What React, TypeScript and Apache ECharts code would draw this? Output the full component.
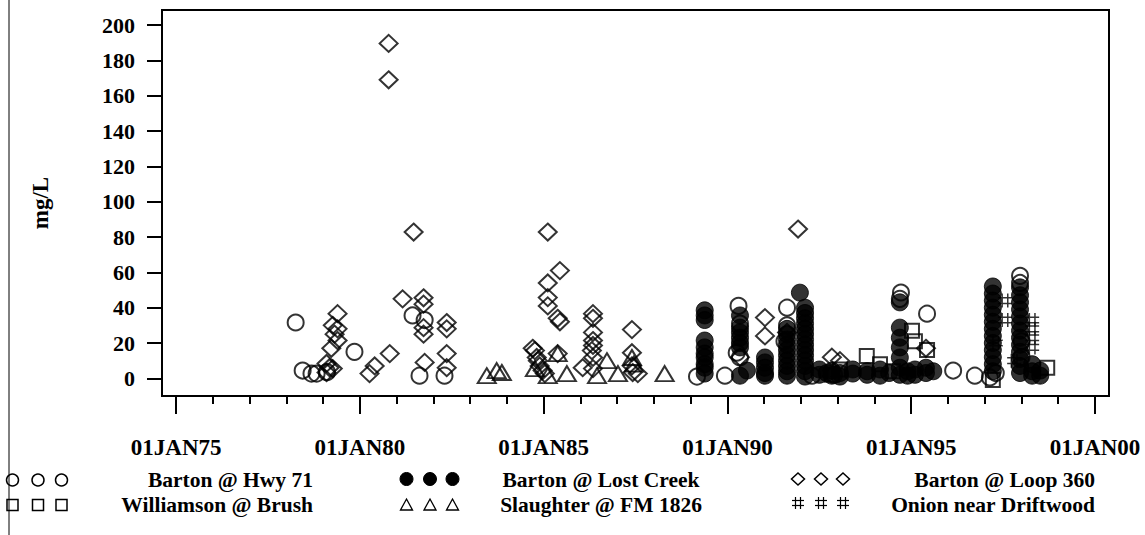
import React, { useEffect, useRef } from "react";
import * as echarts from "echarts";

// x = decimal year, y = mg/L
const hwy71: [number, number][] = [
  [1978.25, 31.6], [1978.44, 4.4], [1978.68, 2.7], [1978.82, 2.7], [1979.1, 3.5], [1979.85, 15],
  [1981.43, 35.6], [1981.62, 1.5], [1981.76, 33], [1982.3, 1.5],
  [1989.17, 1.0], [1989.93, 1.5], [1990.3, 41], [1990.34, 31], [1990.34, 11.8], [1990.25, 14.5],
  [1991.62, 40], [1991.62, 30], [1991.55, 21], [1992.3, 1.5], [1992.9, 2],
  [1994.72, 48.6], [1994.69, 45], [1995.43, 36.6], [1996.14, 4.4], [1996.73, 1.5], [1997.14, 0.5],
  [1997.96, 58], [1997.96, 54], [1998.0, 21], [1998.0, 12], [1997.3, 3],
];

const lostCreek: [number, number][] = [
  [1989.38, 38.5], [1989.38, 35.6], [1989.38, 33], [1989.38, 21.4], [1989.38, 17.5], [1989.38, 14],
  [1989.38, 11.8], [1989.38, 8], [1989.38, 6], [1989.38, 2.7],
  [1990.34, 35.6], [1990.34, 28.7], [1990.34, 26], [1990.34, 23], [1990.34, 20], [1990.34, 17.5],
  [1990.53, 4.4], [1990.34, 1.5],
  [1991.02, 11.8], [1991.02, 9], [1991.02, 6], [1991.02, 3], [1991.02, 1.5],
  [1991.62, 28], [1991.62, 25], [1991.62, 22], [1991.62, 19], [1991.62, 16], [1991.62, 13],
  [1991.62, 10], [1991.62, 7], [1991.62, 4], [1991.62, 1.5],
  [1991.97, 48.5], [1992.11, 40], [1992.11, 37], [1992.11, 34], [1992.11, 31], [1992.11, 28],
  [1992.11, 25], [1992.11, 22], [1992.11, 19], [1992.11, 16], [1992.11, 13], [1992.11, 10],
  [1992.11, 7], [1992.11, 4], [1992.11, 1],
  [1992.5, 2], [1992.5, 5], [1992.7, 3], [1992.84, 4.4], [1992.84, 1.5], [1993.06, 3], [1993.06, 1],
  [1993.41, 2.7], [1993.41, 5], [1993.8, 2], [1993.8, 4], [1994.15, 1.5], [1994.15, 5], [1994.4, 3],
  [1994.69, 43], [1994.69, 28.7], [1994.69, 23], [1994.69, 17.5], [1994.69, 11.8], [1994.69, 6],
  [1994.69, 2], [1994.9, 4], [1994.9, 1.5], [1995.1, 5], [1995.1, 2], [1995.4, 6], [1995.4, 3],
  [1995.6, 4],
  [1997.22, 52], [1997.22, 48], [1997.22, 44], [1997.22, 40], [1997.22, 36], [1997.22, 32],
  [1997.22, 28], [1997.22, 24], [1997.22, 20], [1997.22, 16], [1997.22, 12], [1997.22, 8],
  [1997.22, 4],
  [1997.96, 51.5], [1997.96, 47], [1997.96, 43], [1997.96, 39], [1997.96, 35], [1997.96, 31],
  [1997.96, 27], [1997.96, 23], [1997.96, 19], [1997.96, 15], [1997.96, 11], [1997.96, 7],
  [1997.96, 3], [1998.29, 8], [1998.29, 4], [1998.29, 1.5], [1998.51, 4.4], [1998.51, 1.5],
];

const loop360: [number, number][] = [
  [1979.39, 36.6], [1979.26, 30], [1979.39, 28], [1979.31, 25], [1979.39, 21.4], [1979.22, 17],
  [1979.09, 8.4], [1979.17, 6], [1979.09, 3.3], [1979.26, 5.5], [1980.26, 2.7], [1980.4, 7],
  [1980.81, 14], [1980.78, 189.6], [1980.78, 169], [1981.46, 82.8], [1981.16, 45],
  [1981.73, 45.6], [1981.73, 42], [1981.73, 28.7], [1981.73, 25], [1981.76, 9],
  [1982.36, 31.6], [1982.36, 28], [1982.36, 14], [1982.36, 6],
  [1985.11, 82.8], [1985.11, 54], [1985.11, 45.7], [1985.11, 41], [1985.44, 61], [1985.44, 32],
  [1985.38, 34], [1985.38, 14], [1984.7, 17], [1984.76, 15.7], [1984.81, 11.8], [1984.84, 10],
  [1984.89, 7], [1984.97, 4.4], [1985.03, 2.7],
  [1986.34, 36.6], [1986.34, 34], [1986.34, 26], [1986.34, 21.4], [1986.34, 18.6], [1986.34, 11.8],
  [1986.34, 5.5], [1986.31, 15.7], [1986.06, 6],
  [1987.4, 27.6], [1987.4, 14.5], [1987.4, 7], [1987.42, 3.3], [1987.56, 2.7],
  [1990.34, 12], [1991.02, 34.4], [1991.02, 24], [1991.62, 26], [1991.92, 84.5],
  [1992.84, 12], [1993.06, 10], [1995.4, 17],
];

const williamson: [number, number][] = [
  [1992.84, 2], [1993.06, 5], [1993.79, 12.7], [1994.15, 8], [1994.5, 4], [1995.02, 27],
  [1995.1, 21], [1995.43, 16], [1997.22, -1], [1998.7, 6],
];

const slaughter: [number, number][] = [
  [1983.45, 1.5], [1983.72, 4.4], [1983.86, 3.3], [1984.76, 5.5], [1985.11, 1.5], [1985.38, 14],
  [1985.63, 2.7], [1986.45, 1.5], [1986.72, 10], [1987.02, 2.7], [1987.4, 11.8], [1987.45, 8],
  [1988.29, 2.7],
];

const onion: [number, number][] = [
  [1997.55, 44], [1997.55, 33], [1998.29, 33], [1998.29, 28], [1998.29, 23], [1998.29, 17.5],
  [1997.3, 20], [1997.8, 10],
];

const yTicks = [0, 20, 40, 60, 80, 100, 120, 140, 160, 180, 200];
const xMajor = [1975, 1980, 1985, 1990, 1995, 2000];
const xMinor = Array.from({ length: 26 }, (_, i) => 1975 + i);

const FONT = "'Liberation Serif', 'Times New Roman', serif";

const baseStyle = { color: "none", borderColor: "#000", borderWidth: 2 };

export default function App() {
  const ref = useRef<HTMLDivElement>(null);
  useEffect(() => {
    if (!ref.current) return;
    const chart = echarts.init(ref.current, null, { renderer: "svg" });
    const legendRow1 = 480;
    const legendRow2 = 505;
    const circles = [12.5, 38, 61.5];
    const col2 = [406.5, 430, 452.5];
    const col3 = [798, 821, 843];
    const graphic: any[] = [
      { type: "line", shape: { x1: 9, y1: 0, x2: 9, y2: 535 }, style: { stroke: "#000", lineWidth: 1 } },
      {
        type: "text", x: 40, y: 203, rotation: Math.PI / 2,
        style: { text: "mg/L", font: `bold 23px ${FONT}`, fill: "#000", align: "center", verticalAlign: "middle" },
      },
    ];
    circles.forEach((cx) => {
      graphic.push({ type: "circle", shape: { cx, cy: legendRow1, r: 6 }, style: { fill: "none", stroke: "#000", lineWidth: 1.5 } });
      graphic.push({ type: "rect", shape: { x: cx - 5.5, y: legendRow2 - 5.5, width: 11, height: 11 }, style: { fill: "none", stroke: "#000", lineWidth: 1.5 } });
    });
    col2.forEach((cx) => {
      graphic.push({ type: "circle", shape: { cx, cy: legendRow1 - 1, r: 6.5 }, style: { fill: "#000", stroke: "#000", lineWidth: 1 } });
      graphic.push({ type: "polygon", shape: { points: [[cx, legendRow2 - 6], [cx + 6, legendRow2 + 5], [cx - 6, legendRow2 + 5]] }, style: { fill: "none", stroke: "#000", lineWidth: 1.3 } });
    });
    col3.forEach((cx) => {
      graphic.push({ type: "polygon", shape: { points: [[cx, legendRow1 - 7], [cx + 6.5, legendRow1 - 1], [cx, legendRow1 + 5], [cx - 6.5, legendRow1 - 1]] }, style: { fill: "none", stroke: "#000", lineWidth: 1.5 } });
      const y = legendRow2 - 2;
      [[cx - 2.5, y - 6, cx - 2.5, y + 6], [cx + 2.5, y - 6, cx + 2.5, y + 6], [cx - 6, y - 2.5, cx + 6, y - 2.5], [cx - 6, y + 2.5, cx + 6, y + 2.5]].forEach(([x1, y1, x2, y2]) =>
        graphic.push({ type: "line", shape: { x1, y1, x2, y2 }, style: { stroke: "#000", lineWidth: 1.2 } })
      );
    });
    const legendTexts: [string, number, number, string][] = [
      ["Barton @ Hwy 71", 313, legendRow1, "right"],
      ["Williamson @ Brush", 313, legendRow2, "right"],
      ["Barton @ Lost Creek", 601, legendRow1, "center"],
      ["Slaughter @ FM 1826", 601, legendRow2, "center"],
      ["Barton @ Loop 360", 1095, legendRow1, "right"],
      ["Onion near Driftwood", 1095, legendRow2, "right"],
    ];
    legendTexts.forEach(([text, x, y, align]) =>
      graphic.push({ type: "text", x, y, style: { text, font: `bold 21.5px ${FONT}`, fill: "#000", align, verticalAlign: "middle" } })
    );

    const xmin = 1974.613;
    const xmax = 2000.381;
    chart.setOption({
      animation: false,
      backgroundColor: "#fff",
      grid: { left: 162, top: 10, right: 36, bottom: 139, show: true, borderColor: "#000", borderWidth: 2, backgroundColor: "transparent" },
      xAxis: [
        {
          type: "value", min: xmin, max: xmax, position: "bottom",
          axisLine: { show: false, onZero: false }, splitLine: { show: false },
          axisTick: { show: true, customValues: xMajor, length: 18, lineStyle: { color: "#000", width: 2 } },
          axisLabel: {
            show: true, customValues: xMajor, margin: 40,
            formatter: (v: number) => "01JAN" + String(Math.round(v) % 100).padStart(2, "0"),
            fontFamily: FONT, fontWeight: "bold", fontSize: 23, color: "#000",
          },
        },
        {
          type: "value", min: xmin, max: xmax, position: "bottom",
          axisLine: { show: false, onZero: false }, splitLine: { show: false },
          axisTick: { show: true, customValues: xMinor, length: 8, lineStyle: { color: "#000", width: 2 } },
          axisLabel: { show: false },
        },
      ],
      yAxis: {
        type: "value", min: -10, max: 208.5,
        axisLine: { show: false, onZero: false }, splitLine: { show: false },
        axisTick: { show: true, customValues: yTicks, length: 15, lineStyle: { color: "#000", width: 2 } },
        axisLabel: { show: true, customValues: yTicks, margin: 27, fontFamily: FONT, fontWeight: "bold", fontSize: 22, color: "#000" },
      },
      graphic,
      series: [
        { name: "Barton @ Hwy 71", type: "scatter", data: hwy71, symbol: "circle", symbolSize: 16, itemStyle: baseStyle },
        { name: "Barton @ Lost Creek", type: "scatter", data: lostCreek, symbol: "circle", symbolSize: 17, itemStyle: { color: "#000", borderColor: "#000", borderWidth: 1 } },
        { name: "Barton @ Loop 360", type: "scatter", data: loop360, symbol: "diamond", symbolSize: [18, 17], itemStyle: baseStyle },
        { name: "Williamson @ Brush", type: "scatter", data: williamson, symbol: "rect", symbolSize: 14, itemStyle: baseStyle },
        { name: "Slaughter @ FM 1826", type: "scatter", data: slaughter, symbol: "triangle", symbolSize: [18, 15], itemStyle: baseStyle },
        {
          name: "Onion near Driftwood", type: "scatter", data: onion,
          symbol: "path://M3,0 L3,10 M7,0 L7,10 M0,3 L10,3 M0,7 L10,7", symbolSize: 14,
          itemStyle: { color: "none", borderColor: "#000", borderWidth: 1.5 },
        },
      ],
    });
    return () => chart.dispose();
  }, []);
  return <div ref={ref} style={{ position: "absolute", left: 0, top: 0, width: 1145, height: 535, background: "#fff" }} />;
}
